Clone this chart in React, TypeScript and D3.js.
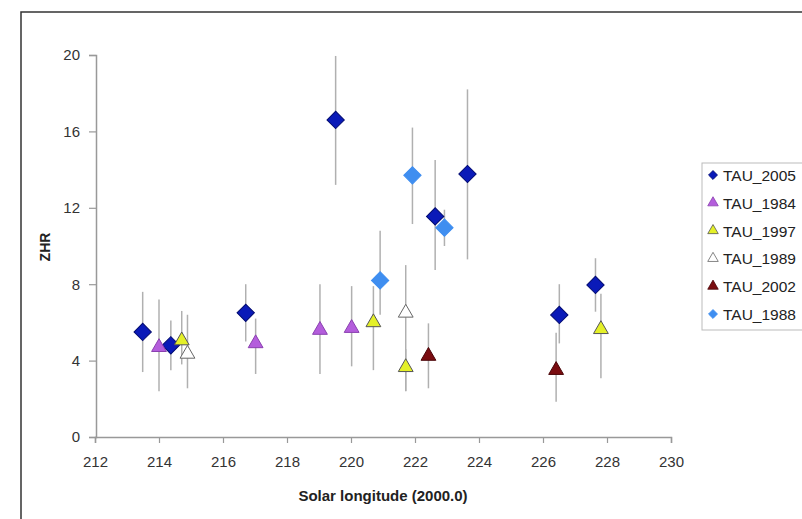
import React, { useEffect, useRef } from 'react';
import * as d3 from 'd3';

// series, in legend order
const seriesNames = ['TAU_2005', 'TAU_1984', 'TAU_1997', 'TAU_1989', 'TAU_2002', 'TAU_1988'];

// [solar longitude, ZHR, error low, error high]
const tau2005 = [
  [213.49, 5.5, 3.4, 7.6],
  [214.37, 4.8, 3.5, 6.1],
  [216.71, 6.5, 5.0, 8.0],
  [219.52, 16.6, 13.2, 19.95],
  [222.63, 11.55, 8.75, 14.5],
  [223.64, 13.77, 9.3, 18.2],
  [226.51, 6.39, 4.9, 8.0],
  [227.64, 7.96, 6.56, 9.36],
];
const tau1984 = [
  [214.0, 4.7, 2.4, 7.2],
  [217.02, 4.9, 3.3, 6.2],
  [219.03, 5.6, 3.3, 8.0],
  [220.02, 5.7, 3.7, 7.9],
];
const tau1997 = [
  [214.71, 5.05, 3.8, 6.6],
  [220.7, 6.0, 3.5, 7.9],
  [221.71, 3.65, 2.4, 4.6],
  [227.81, 5.64, 3.07, 7.5],
];
const tau1989 = [
  [214.89, 4.35, 2.55, 6.4],
  [221.71, 6.5, 2.4, 9.0],
];
const tau2002 = [
  [222.42, 4.24, 2.55, 5.95],
  [226.41, 3.5, 1.85, 5.46],
];
const tau1988 = [
  [220.91, 8.2, 6.4, 10.8],
  [221.92, 13.7, 11.15, 16.2],
  [222.92, 10.96, 10.0, 11.9],
];

const xTicks = [212, 214, 216, 218, 220, 222, 224, 226, 228, 230];
const yTicks = [0, 4, 8, 12, 16, 20];

const styles: Record<string, { shape: string; fill: string; stroke: string }> = {
  TAU_2005: { shape: 'diamond', fill: '#0a1ab8', stroke: '#000a70' },
  TAU_1984: { shape: 'triangle', fill: '#b45ddc', stroke: '#8a40b0' },
  TAU_1997: { shape: 'triangle', fill: '#e4f028', stroke: '#555' },
  TAU_1989: { shape: 'triangle', fill: '#ffffff', stroke: '#666' },
  TAU_2002: { shape: 'triangle', fill: '#7a0c10', stroke: '#4a0508' },
  TAU_1988: { shape: 'diamond', fill: '#3f8ef0', stroke: '#3f8ef0' },
};

export default function App() {
  const ref = useRef<SVGSVGElement>(null);
  const width = 802;
  const height = 519;

  useEffect(() => {
    const svg = d3.select(ref.current);
    svg.selectAll('*').remove();

    const x = d3.scaleLinear().domain([212, 230]).range([95, 671]);
    const y = d3.scaleLinear().domain([0, 20]).range([437, 55]);
    const font = 'Arial, "Liberation Sans", sans-serif';

    // outer frame
    svg.append('rect')
      .attr('x', 21).attr('y', 12)
      .attr('width', 800).attr('height', 520)
      .attr('fill', 'none').attr('stroke', '#333').attr('stroke-width', 1.5);

    const xAxis = svg.append('g')
      .attr('transform', `translate(0,${y(0)})`)
      .call(d3.axisBottom(x).tickValues(xTicks).tickSize(6).tickSizeOuter(6).tickFormat(d3.format('d')));
    const yAxis = svg.append('g')
      .attr('transform', `translate(${x(212) + 1},0)`)
      .call(d3.axisLeft(y).tickValues(yTicks).tickSize(7).tickSizeOuter(7).tickFormat(d3.format('d')));

    [xAxis, yAxis].forEach(a => {
      a.select('.domain').attr('stroke', '#999').attr('stroke-width', 1.5);
      a.selectAll('.tick line').attr('stroke', '#999').attr('stroke-width', 1.2);
      a.selectAll('.tick text').attr('fill', '#333').style('font-family', font).style('font-size', '15px');
    });
    xAxis.selectAll('.tick text').attr('dy', '1.4em');
    yAxis.selectAll('.tick text').attr('dx', '-0.4em');

    // axis titles
    svg.append('text')
      .attr('x', 383).attr('y', 501)
      .attr('text-anchor', 'middle')
      .style('font-family', font).style('font-size', '15px').style('font-weight', 'bold')
      .attr('fill', '#222')
      .text('Solar longitude (2000.0)');
    svg.append('text')
      .attr('transform', 'translate(50,247) rotate(-90)')
      .attr('text-anchor', 'middle')
      .style('font-family', font).style('font-size', '14px').style('font-weight', 'bold')
      .attr('fill', '#222')
      .text('ZHR');

    const allData = [tau2005, tau1984, tau1997, tau1989, tau2002, tau1988];

    // error bars
    allData.forEach(data => {
      svg.selectAll(null)
        .data(data)
        .enter()
        .append('line')
        .attr('x1', d => x(d[0])).attr('x2', d => x(d[0]))
        .attr('y1', d => y(d[2])).attr('y2', d => y(d[3]))
        .attr('stroke', '#b0b0b0').attr('stroke-width', 1.5);
    });

    const diamond = d3.symbol().type(d3.symbolSquare).size(150);
    const triangle = d3.symbol().type(d3.symbolTriangle).size(95);
    const smallDiamond = d3.symbol().type(d3.symbolSquare).size(40);
    const smallTriangle = d3.symbol().type(d3.symbolTriangle).size(48);

    allData.forEach((data, i) => {
      const st = styles[seriesNames[i]];
      const isD = st.shape === 'diamond';
      svg.selectAll(null)
        .data(data)
        .enter()
        .append('path')
        .attr('d', isD ? diamond() : triangle())
        .attr('transform', d => `translate(${x(d[0])},${y(d[1])})` + (isD ? ' rotate(45)' : ''))
        .attr('fill', st.fill).attr('stroke', st.stroke).attr('stroke-width', 1);
    });

    // legend
    const leg = svg.append('g');
    leg.append('rect')
      .attr('x', 702).attr('y', 163)
      .attr('width', 110).attr('height', 167)
      .attr('fill', '#fff').attr('stroke', '#bbb').attr('stroke-width', 1);
    const ly = d3.scalePoint().domain(seriesNames).range([175, 314]);
    seriesNames.forEach(name => {
      const st = styles[name];
      const isD = st.shape === 'diamond';
      leg.append('path')
        .attr('d', isD ? smallDiamond() : smallTriangle())
        .attr('transform', `translate(713,${ly(name)})` + (isD ? ' rotate(45)' : ''))
        .attr('fill', st.fill).attr('stroke', st.stroke).attr('stroke-width', 0.8);
      leg.append('text')
        .attr('x', 723).attr('y', ly(name)! + 6)
        .style('font-family', font).style('font-size', '15.5px')
        .attr('fill', '#222')
        .text(name);
    });
  }, []);

  return (
    <svg ref={ref} width={width} height={height}
      style={{ position: 'absolute', left: 0, top: 0, background: '#fff' }} />
  );
}
